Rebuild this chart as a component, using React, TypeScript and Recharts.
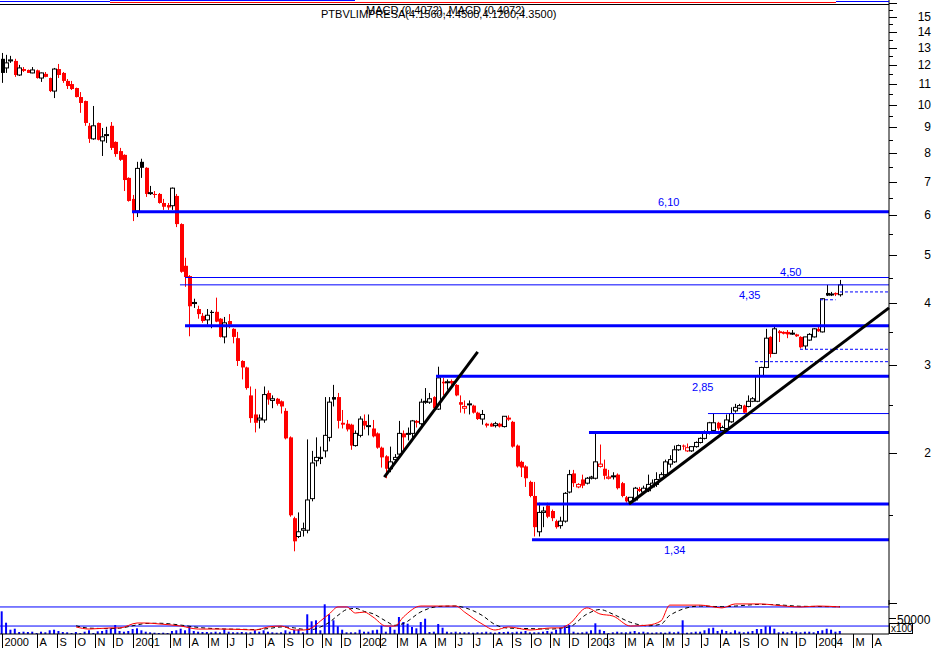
import React from 'react';
import { ComposedChart, Bar, Line, XAxis, YAxis, ReferenceLine } from 'recharts';

// weekly quotes PTBVLIMPRESA, Jun 2000 - Feb 2004
const opens = [
  12.36, 11.85, 12.24, 12.24, 11.47, 11.79, 11.74, 11.58, 11.72, 11.31,
  11.53, 11.31, 10.65, 11.79, 11.58, 11.16, 11.0, 10.8, 10.36, 10.17,
  9.07, 8.54, 9.19, 8.46, 8.69, 9.07, 8.42, 8.07, 7.93, 7.13,
  6.47, 6.12, 7.68, 7.47, 6.64, 6.62, 6.62, 6.35, 6.29, 6.27,
  6.56, 5.76, 4.75, 4.53, 3.99, 3.89, 3.77, 3.7, 3.84, 3.84,
  3.72, 3.42, 3.68, 3.55, 3.4, 3.06, 2.97, 2.61, 2.39, 2.33,
  2.33, 2.64, 2.55, 2.57, 2.54, 2.43, 2.15, 1.48, 1.36, 1.4,
  1.4, 1.62, 1.93, 1.95, 2.02, 2.15, 2.59, 2.59, 2.3, 2.29,
  2.28, 2.07, 2.17, 2.32, 2.26, 2.24, 2.19, 2.05, 1.97, 1.86,
  1.94, 1.99, 2.19, 2.18, 2.19, 2.32, 2.29, 2.53, 2.53, 2.59,
  2.45, 2.78, 2.77, 2.79, 2.74, 2.53, 2.46, 2.5, 2.49, 2.41,
  2.34, 2.29, 2.29, 2.27, 2.29, 2.26, 2.34, 2.31, 2.07, 1.92,
  1.88, 1.75, 1.64, 1.39, 1.52, 1.57, 1.53, 1.46, 1.43, 1.46,
  1.67, 1.82, 1.71, 1.77, 1.74, 1.78, 1.78, 1.88, 1.86, 1.78,
  1.8, 1.81, 1.74, 1.63, 1.6, 1.61, 1.69, 1.67, 1.68, 1.71,
  1.73, 1.78, 1.81, 1.9, 1.92, 2.03, 2.07, 2.02, 2.02, 2.06,
  2.1, 2.14, 2.19, 2.22, 2.3, 2.22, 2.24, 2.31, 2.43, 2.46,
  2.49, 2.48, 2.54, 2.54, 2.86, 2.97, 3.42, 3.17, 3.51, 3.5,
  3.5, 3.48, 3.46, 3.42, 3.28, 3.37, 3.42, 3.55, 3.5, 4.19,
  4.16, 4.19, 4.156,
];
const highs = [
  12.7, 12.59, 12.53, 12.36, 12.02, 11.9, 11.76, 11.9, 11.76, 11.6,
  11.63, 11.33, 11.85, 12.07, 11.63, 11.26, 11.16, 10.82, 10.6, 10.19,
  9.19, 9.94, 9.21, 8.98, 9.03, 9.23, 8.44, 8.19, 7.95, 7.15,
  6.59, 7.68, 7.79, 7.49, 6.87, 6.71, 6.65, 6.47, 6.35, 6.82,
  6.62, 5.78, 4.93, 4.55, 4.08, 3.95, 3.82, 3.89, 3.87, 4.1,
  3.73, 3.75, 3.8, 3.56, 3.5, 3.07, 2.98, 2.72, 2.69, 2.39,
  2.72, 2.67, 2.61, 2.58, 2.55, 2.46, 2.16, 1.49, 1.52, 1.45,
  2.13, 2.02, 2.15, 2.06, 2.59, 2.59, 2.74, 2.64, 2.44, 2.33,
  2.29, 2.22, 2.37, 2.39, 2.39, 2.33, 2.2, 2.06, 1.98, 2.06,
  1.99, 2.32, 2.22, 2.25, 2.33, 2.33, 2.57, 2.7, 2.64, 2.6,
  2.98, 2.83, 2.81, 2.81, 2.75, 2.61, 2.55, 2.55, 2.5, 2.42,
  2.44, 2.3, 2.3, 2.31, 2.3, 2.37, 2.38, 2.32, 2.08, 1.93,
  1.89, 1.76, 1.75, 1.59, 1.56, 1.59, 1.54, 1.47, 1.49, 1.67,
  1.85, 1.85, 1.74, 1.81, 1.79, 1.8, 2.19, 2.08, 1.94, 1.85,
  1.83, 1.82, 1.75, 1.64, 1.63, 1.71, 1.71, 1.72, 1.81, 1.77,
  1.83, 1.83, 1.94, 1.98, 2.07, 2.08, 2.08, 2.09, 2.06, 2.11,
  2.15, 2.22, 2.31, 2.4, 2.31, 2.27, 2.39, 2.47, 2.51, 2.51,
  2.5, 2.61, 2.59, 2.87, 2.98, 3.55, 3.43, 3.58, 3.53, 3.51,
  3.53, 3.53, 3.47, 3.43, 3.42, 3.48, 3.56, 3.58, 4.09, 4.35,
  4.21, 4.2, 4.45,
];
const lows = [
  11.06, 11.58, 12.13, 11.37, 11.42, 11.63, 11.58, 11.56, 11.28, 11.11,
  11.35, 10.6, 10.31, 11.31, 11.06, 10.75, 10.7, 10.34, 9.63, 9.07,
  8.38, 8.5, 8.48, 7.89, 8.38, 8.11, 7.86, 7.71, 6.71, 6.39,
  5.84, 5.95, 7.13, 6.53, 6.59, 6.5, 6.33, 6.15, 6.15, 6.15,
  5.68, 4.6, 4.31, 3.43, 3.91, 3.72, 3.65, 3.62, 3.56, 3.66,
  3.41, 3.32, 3.56, 3.32, 2.99, 2.81, 2.68, 2.3, 2.2, 2.24,
  2.3, 2.5, 2.46, 2.49, 2.4, 2.13, 1.49, 1.27, 1.35, 1.36,
  1.38, 1.6, 1.88, 1.9, 1.96, 2.11, 2.48, 2.24, 2.24, 2.21,
  2.03, 2.06, 2.15, 2.23, 2.17, 2.15, 2.04, 1.87, 1.78, 1.83,
  1.91, 1.97, 2.03, 2.12, 2.12, 2.25, 2.27, 2.51, 2.51, 2.45,
  2.44, 2.61, 2.68, 2.74, 2.6, 2.41, 2.4, 2.39, 2.4, 2.33,
  2.28, 2.25, 2.26, 2.25, 2.25, 2.25, 2.32, 2.05, 1.87, 1.79,
  1.71, 1.63, 1.36, 1.36, 1.42, 1.48, 1.46, 1.41, 1.41, 1.45,
  1.66, 1.71, 1.7, 1.7, 1.73, 1.77, 1.77, 1.87, 1.77, 1.77,
  1.77, 1.69, 1.63, 1.59, 1.59, 1.6, 1.67, 1.66, 1.67, 1.7,
  1.71, 1.77, 1.79, 1.87, 1.91, 2.02, 2.03, 2.01, 2.01, 2.05,
  2.09, 2.13, 2.18, 2.21, 2.22, 2.21, 2.22, 2.3, 2.41, 2.45,
  2.4, 2.47, 2.53, 2.53, 2.85, 2.96, 3.11, 3.16, 3.34, 3.46,
  3.4, 3.45, 3.42, 3.24, 3.23, 3.36, 3.41, 3.5, 3.49, 4.13,
  4.13, 4.13, 4.12,
];
const closes = [
  11.58, 12.13, 12.3, 11.47, 11.85, 11.69, 11.58, 11.74, 11.31, 11.58,
  11.37, 10.65, 11.79, 11.47, 11.16, 10.9, 10.75, 10.36, 10.08, 9.19,
  8.54, 9.07, 8.5, 8.62, 8.71, 8.19, 7.96, 7.75, 7.06, 6.41,
  6.09, 7.45, 7.47, 6.62, 6.66, 6.59, 6.35, 6.24, 6.22, 6.8,
  5.76, 4.62, 4.51, 3.94, 4.01, 3.8, 3.68, 3.78, 3.82, 3.67,
  3.42, 3.65, 3.62, 3.42, 3.06, 2.97, 2.7, 2.35, 2.3, 2.35,
  2.62, 2.56, 2.57, 2.51, 2.48, 2.14, 1.5, 1.33, 1.39, 1.41,
  1.61, 1.91, 1.96, 1.96, 2.17, 2.53, 2.56, 2.32, 2.28, 2.23,
  2.07, 2.19, 2.34, 2.27, 2.27, 2.16, 2.05, 1.96, 1.86, 1.92,
  1.96, 2.19, 2.15, 2.19, 2.32, 2.3, 2.53, 2.54, 2.57, 2.46,
  2.83, 2.76, 2.78, 2.76, 2.61, 2.5, 2.48, 2.51, 2.41, 2.34,
  2.39, 2.27, 2.26, 2.29, 2.26, 2.37, 2.35, 2.06, 1.88, 1.87,
  1.78, 1.64, 1.42, 1.52, 1.53, 1.49, 1.48, 1.42, 1.46, 1.66,
  1.81, 1.74, 1.73, 1.72, 1.78, 1.79, 1.92, 1.9, 1.8, 1.79,
  1.8, 1.7, 1.64, 1.6, 1.63, 1.7, 1.69, 1.7, 1.73, 1.74,
  1.77, 1.81, 1.92, 1.94, 2.03, 2.07, 2.06, 2.05, 2.06, 2.1,
  2.14, 2.19, 2.3, 2.3, 2.24, 2.25, 2.33, 2.4, 2.47, 2.49,
  2.41, 2.54, 2.57, 2.86, 2.97, 3.4, 3.16, 3.55, 3.48, 3.47,
  3.46, 3.48, 3.43, 3.26, 3.42, 3.46, 3.55, 3.51, 4.08, 4.14,
  4.17, 4.16, 4.35,
];
// volume, x100
const volumes = [
  70900, 35300, 13400, 16600, 6300, 7200, 6300, 7200, 3100, 7200,
  5300, 11600, 13400, 9400, 6300, 5300, 3100, 6300, 3100, 7200,
  11600, 3100, 8400, 9400, 13400, 17800, 28100, 9400, 7200, 9400,
  15600, 17800, 11600, 7200, 5300, 4100, 3100, 4100, 3100, 9400,
  11600, 16600, 11600, 21900, 9400, 7200, 6300, 6300, 5300, 7200,
  5300, 14700, 7200, 5300, 5300, 6300, 5300, 5300, 11600, 7200,
  11600, 7200, 5300, 4100, 5300, 11600, 7200, 13400, 14700, 5300,
  61600, 39700, 42800, 11600, 92800, 61600, 42800, 24100, 13400, 5300,
  5300, 5300, 13400, 7200, 7200, 11600, 13400, 25900, 7200, 21900,
  13400, 53100, 37500, 32200, 21900, 17800, 37500, 47800, 6300, 7200,
  31300, 19700, 7200, 5300, 7200, 5300, 5300, 5300, 4100, 5300,
  5300, 7200, 5300, 4100, 6300, 6300, 7200, 5300, 7200, 7200,
  9400, 5300, 5300, 5300, 7200, 9400, 7200, 13400, 19700, 25900,
  28100, 7200, 4100, 5300, 7200, 11600, 33400, 13400, 9400, 3100,
  5300, 7200, 5300, 5300, 7200, 9400, 5300, 7200, 5300, 4100,
  5300, 5300, 4100, 7200, 5300, 7200, 42800, 4100, 5300, 7200,
  7200, 11600, 17800, 19700, 9400, 13400, 9400, 5300, 11600, 7200,
  5300, 7200, 9400, 15600, 15600, 24100, 24100, 16600, 5300, 7200,
  5300, 9400, 7200, 5300, 7200, 7200, 5300, 9400, 11600, 16600,
  13400, 7200, 9400,
];
// MACD read at these weeks
const macdWeeks = [
  17, 20, 25, 27, 31, 33, 36, 41, 45, 50, 55, 58, 61, 64, 67, 69, 71, 73, 75, 77,
  79, 81, 83, 85, 88, 90, 92, 96, 100, 104, 106, 110, 113, 116, 121, 126, 128, 130, 134, 137,
  140, 144, 148, 151, 153, 160, 165, 168, 174, 177, 183, 187, 192,
];
const macdValues = [
  -0.45, -0.54, -0.49, -0.49, -0.28, -0.28, -0.32, -0.41, -0.54, -0.54,
  -0.56, -0.58, -0.45, -0.41, -0.58, -0.58, -0.49, -0.19, 0.11, 0.41,
  0.41, 0.15, 0.19, -0.02, -0.41, -0.41, -0.02, 0.45, 0.45, 0.45,
  0.19, -0.32, -0.58, -0.45, -0.58, -0.49, -0.49, -0.32, 0.37, 0.11,
  0.02, -0.41, -0.37, -0.19, 0.49, 0.49, 0.37, 0.54, 0.54, 0.49,
  0.41, 0.45, 0.41,
];
const signalValues = [
  -0.4, -0.5, -0.52, -0.5, -0.36, -0.3, -0.29, -0.37, -0.47, -0.53,
  -0.55, -0.56, -0.52, -0.45, -0.49, -0.55, -0.56, -0.45, -0.25, 0.05,
  0.3, 0.35, 0.22, 0.12, -0.2, -0.38, -0.3, 0.2, 0.43, 0.45,
  0.38, 0.05, -0.35, -0.5, -0.52, -0.54, -0.5, -0.45, 0.1, 0.3,
  0.1, -0.25, -0.4, -0.33, 0.05, 0.45, 0.42, 0.45, 0.52, 0.51,
  0.44, 0.43, 0.42,
];

const monthLabels = [
  'A', 'S', 'O', 'N', 'D',
  '2001', '', 'M', 'A', 'M', 'J', 'J', 'A', 'S', 'O', 'N', 'D',
  '2002', '', 'M', 'A', 'M', 'J', 'J', 'A', 'S', 'O', 'N', 'D',
  '2003', '', 'M', 'A', 'M', 'J', 'J', 'A', 'S', 'O', 'N', 'D',
  '2004', '', 'M', 'A',
];
const priceTicks = [
  1, 1.5, 2, 2.5, 3, 3.5, 4, 4.5, 5, 5.5, 6, 6.5, 7, 7.5, 8, 8.5,
  9, 9.5, 10, 10.5, 11, 11.5, 12, 12.5, 13, 13.5, 14, 14.5, 15, 15.5, 16,
];
const labelledPrices = [2, 3, 4, 5, 6, 7, 8, 9, 10, 11, 12, 13, 14, 15];

// support / resistance levels: price, start (days), label
const levels = [
  { price: 6.1, from: 211.7, thick: true, label: '6,10', dx: 526, dy: -6 },
  { price: 4.5, from: 296.7, thick: false, label: '4,50', dx: 595, dy: -2 },
  { price: 4.35, from: 288.6, thick: false, label: '4,35', dx: 559, dy: 14 },
  { price: 3.6, from: 296.7, thick: true },
  { price: 2.85, from: 699.2, thick: true, label: '2,85', dx: 256, dy: 15 },
  { price: 2.4, from: 1135.3, thick: false },
  { price: 2.2, from: 944.5, thick: true },
  { price: 1.58, from: 861.1, thick: true },
  { price: 1.34, from: 853.1, thick: true, label: '1,34', dx: 132, dy: 14 },
];
const stops = [
  { price: 4.21, from: 1347, to: 1425.6 },
  { price: 4.06, from: 1315, to: 1340 },
  { price: 3.23, from: 1282.9, to: 1425.6 },
  { price: 3.05, from: 1210.7, to: 1425.6 },
];
const trends = [
  { from: 616.3, p1: 1.79, to: 766.0, p2: 3.19 },
  { from: 1008.7, p1: 1.58, to: 1425.6, p2: 3.91 },
];

const DAY = 86400000;
const ORIGIN = Date.UTC(2000, 5, 2);
const FIRST_WEEK = Date.UTC(2000, 5, 5);
const X_MAX = 1425.6;
const toDay = (t: number) => (t - ORIGIN) / DAY;

const BLUE = '#0000ff';
const RED = '#ff0000';
const FONT = '"Liberation Sans", Arial, sans-serif';

const macdByWeek = new Map(macdWeeks.map((w, k) => [w, k]));
const data = opens.map((o, i) => {
  const k = macdByWeek.get(i);
  return {
    day: toDay(FIRST_WEEK) + 7 * i,
    open: o,
    high: highs[i],
    low: lows[i],
    close: closes[i],
    prev: i > 0 ? closes[i - 1] : undefined,
    vol: volumes[i],
    macd: k !== undefined ? macdValues[k] : undefined,
    signal: k !== undefined ? signalValues[k] : undefined,
  };
});

const xTicks = [data[0].day, ...monthLabels.map((_, k) => toDay(Date.UTC(2000, 7 + k, 1)))];
const xTickLabels = ['2000', ...monthLabels];

const Candle = (props: any) => {
  const { x, y, width, height, payload } = props;
  if (!payload || !Number.isFinite(y) || !Number.isFinite(height)) return null;
  const { open, close, high, low, prev } = payload;
  const cx = Math.round(x + width / 2);
  const span = Math.log(high) - Math.log(low);
  const py = (v: number) => y + (height * (Math.log(high) - Math.log(v))) / span;
  const color = prev !== undefined && close < prev ? RED : '#000';
  const top = py(Math.max(open, close));
  const bodyH = Math.max(1, py(Math.min(open, close)) - top);
  const up = close >= open;
  return (
    <g>
      <line x1={cx + 0.5} x2={cx + 0.5} y1={y} y2={y + height} stroke={color} />
      {up ? (
        <rect x={cx - 1.5} y={top} width={4} height={bodyH} fill="#fff" stroke={color} />
      ) : (
        <rect x={cx - 1} y={top} width={4} height={bodyH} fill={color} />
      )}
    </g>
  );
};

const PriceTick = (props: any) => {
  const { x, y, payload } = props;
  const v = payload.value;
  const labelled = labelledPrices.includes(v);
  const yy = Math.round(y) + 0.5;
  return (
    <g>
      <line x1={x} x2={x + (Number.isInteger(v) ? 8 : 4)} y1={yy} y2={yy} stroke="#000" />
      {labelled && (
        <text x={x + 42} y={y + 4} textAnchor="end" fontSize={12} fontFamily={FONT} fill="#000">
          {v}
        </text>
      )}
    </g>
  );
};

const MonthTick = (props: any) => {
  const { x, y, payload } = props;
  const idx = xTicks.indexOf(payload.value);
  const xx = Math.round(x) + 0.5;
  return (
    <g>
      <line x1={xx} x2={xx} y1={y} y2={y + 14} stroke="#000" />
      <text x={xx + 2} y={y + 12} fontSize={11} fontFamily={FONT} fill="#000">
        {idx >= 0 ? xTickLabels[idx] : ''}
      </text>
    </g>
  );
};

const VolTick = (props: any) => {
  const { x, y, payload } = props;
  const yy = Math.round(y) + 0.5;
  return (
    <g>
      <line x1={x} x2={x + 7} y1={yy} y2={yy} stroke="#000" />
      <text x={x + 8} y={y + 6} fontSize={12} fontFamily={FONT} fill="#000">
        {payload.value}
      </text>
    </g>
  );
};

const LevelLabel = (props: any) => {
  const { viewBox, text, dx, dy } = props;
  if (!viewBox) return null;
  return (
    <text x={viewBox.x + dx} y={viewBox.y + dy} fill={BLUE} fontSize={11} fontFamily={FONT}>
      {text}
    </text>
  );
};

export default function App() {
  return (
    <div style={{ position: 'absolute', left: 0, top: 0, width: 936, height: 649, background: '#fff' }}>
      <div style={{ position: 'absolute', left: 0, top: 600 }}>
        <ComposedChart width={936} height={49} data={data} margin={{ top: 0, right: 0, bottom: 0, left: 0 }}>
          <XAxis
            dataKey="day"
            type="number"
            domain={[0, X_MAX]}
            allowDataOverflow
            ticks={xTicks}
            interval={0}
            tick={MonthTick}
            tickLine={false}
            tickSize={0}
            tickMargin={0}
            axisLine={{ stroke: '#000' }}
            height={15}
          />
          <YAxis
            yAxisId="vol"
            orientation="right"
            width={47}
            domain={[0, 106250]}
            allowDataOverflow
            ticks={[50000]}
            interval={0}
            tick={VolTick}
            tickLine={false}
            tickSize={0}
            tickMargin={0}
            axisLine={{ stroke: '#000' }}
          />
          <YAxis yAxisId="macd" hide domain={[-0.7525, 0.7095]} allowDataOverflow />
          <ReferenceLine yAxisId="macd" y={0.41} stroke={BLUE} strokeWidth={1} />
          <ReferenceLine yAxisId="macd" y={-0.41} stroke={BLUE} strokeWidth={1} />
          <Bar yAxisId="vol" dataKey="vol" fill={BLUE} barSize={2} isAnimationActive={false} />
          <Line
            yAxisId="macd"
            dataKey="signal"
            stroke="#000"
            strokeDasharray="4 3"
            dot={false}
            connectNulls
            type="monotone"
            isAnimationActive={false}
          />
          <Line
            yAxisId="macd"
            dataKey="macd"
            stroke={RED}
            dot={false}
            connectNulls
            type="monotone"
            isAnimationActive={false}
          />
        </ComposedChart>
      </div>

      <div style={{ position: 'absolute', left: 0, top: 0 }}>
        <ComposedChart width={936} height={605} data={data} margin={{ top: 0, right: 0, bottom: 0, left: 0 }}>
          <XAxis dataKey="day" type="number" domain={[0, X_MAX]} allowDataOverflow hide />
          <YAxis
            orientation="right"
            width={47}
            scale="log"
            type="number"
            domain={[0.991, 16.22]}
            allowDataOverflow
            ticks={priceTicks}
            interval={0}
            tick={PriceTick}
            tickLine={false}
            tickSize={0}
            tickMargin={0}
            axisLine={{ stroke: '#000' }}
          />
          {levels.map((l) => (
            <ReferenceLine
              key={'lv' + l.price}
              segment={[
                { x: l.from, y: l.price },
                { x: X_MAX, y: l.price },
              ]}
              stroke={BLUE}
              strokeWidth={l.thick ? 3 : 1}
              label={l.label ? <LevelLabel text={l.label} dx={l.dx} dy={l.dy} /> : undefined}
            />
          ))}
          {stops.map((s) => (
            <ReferenceLine
              key={'st' + s.price}
              segment={[
                { x: s.from, y: s.price },
                { x: s.to, y: s.price },
              ]}
              stroke={BLUE}
              strokeWidth={1}
              strokeDasharray="3 2"
            />
          ))}
          {trends.map((t) => (
            <ReferenceLine
              key={'tr' + t.from}
              segment={[
                { x: t.from, y: t.p1 },
                { x: t.to, y: t.p2 },
              ]}
              stroke="#000"
              strokeWidth={3}
            />
          ))}
          <Bar dataKey={(d: any) => [d.low, d.high]} shape={Candle} barSize={5} isAnimationActive={false} />
        </ComposedChart>
      </div>

      <svg
        width={936}
        height={649}
        style={{ position: 'absolute', left: 0, top: 0, pointerEvents: 'none' }}
      >
        <line x1={0} x2={110} y1={1.5} y2={1.5} stroke={BLUE} />
        <line x1={110} x2={355} y1={0.5} y2={0.5} stroke={BLUE} />
        <line x1={110} x2={836} y1={2.5} y2={2.5} stroke={RED} />
        <line x1={836} x2={889} y1={1.5} y2={1.5} stroke={BLUE} />
        <line x1={0} x2={889} y1={4.5} y2={4.5} stroke="#000" />
        <text x={321} y={17.5} fontSize={11} fontFamily={FONT} fill="#000">
          PTBVLIMPRESA(4.1560,4.4500,4.1200,4.3500)
        </text>
        <text x={366} y={14} fontSize={11} fontFamily={FONT} fill="#000">
          MACD (0.4072), MACD (0.4072)
        </text>
        <rect x={889.5} y={623.5} width={23} height={10} fill="#fff" stroke="#000" />
        <text x={891} y={632} fontSize={10} fontFamily={FONT} fill="#000">
          x100
        </text>
      </svg>
    </div>
  );
}
